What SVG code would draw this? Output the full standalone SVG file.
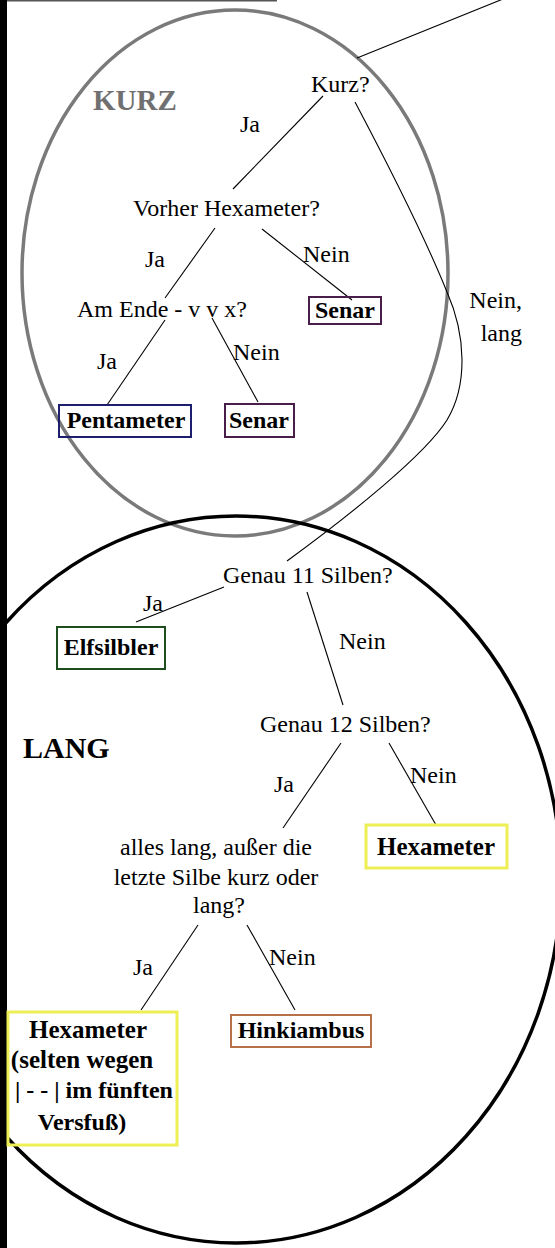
<svg xmlns="http://www.w3.org/2000/svg" width="555" height="1248" viewBox="0 0 555 1248">
<style>
.t{font-family:"Liberation Serif","Times New Roman",serif;font-size:24px;fill:#000}
.b{font-weight:bold}
.m{text-anchor:middle}
.e{text-anchor:end}
.edge{stroke:#000;stroke-width:1.1;fill:none}
.box{fill:none;stroke-width:2}
</style>
<rect x="0" y="0" width="555" height="1248" fill="#fff"/>
<g id="region-kurz">
<ellipse cx="235" cy="273" rx="213" ry="263" fill="none" stroke="#7a7a7a" stroke-width="3.5"/>
<text class="t b" x="93" y="110" style="fill:#707070;font-size:29px">KURZ</text>
</g>
<g id="region-lang">
<ellipse cx="236" cy="879.5" rx="325" ry="363.5" fill="none" stroke="#000" stroke-width="3.5"/>
<text class="t b" x="23" y="758" style="font-size:30px">LANG</text>
</g>
<rect x="0" y="0" width="7" height="1248" fill="#000"/>
<rect x="7" y="0" width="270" height="1.5" fill="#555"/>
<g id="connectors">
<path class="edge" d="M357,58 L503,-1"/>
<path class="edge" d="M323,96 L233,189"/>
<path class="edge" d="M355,102 Q420,225 447,292 C466,335 468,385 447,420 C425,455 350,515 287,561"/>
<path class="edge" d="M215,228 L165,298"/>
<path class="edge" d="M165,320 L107,405"/>
<path class="edge" d="M262,229 L352,300"/>
<path class="edge" d="M212,318 L258,402"/>
<path class="edge" d="M224,587 L136,622"/>
<path class="edge" d="M307,592 L343,705"/>
<path class="edge" d="M341,743 L283,828"/>
<path class="edge" d="M389,743 L436,825"/>
<path class="edge" d="M198,925 L141,1010"/>
<path class="edge" d="M247,925 L295,1010"/>
</g>
<g id="labels">
<text class="t" x="240" y="132">Ja</text>
<text class="t" x="145" y="267">Ja</text>
<text class="t" x="303" y="262">Nein</text>
<text class="t" x="233" y="360">Nein</text>
<text class="t" x="97" y="369">Ja</text>
<text class="t e" x="522" y="308">Nein,</text>
<text class="t e" x="522" y="341">lang</text>
<text class="t" x="143" y="611">Ja</text>
<text class="t" x="339" y="649">Nein</text>
<text class="t" x="274" y="792">Ja</text>
<text class="t" x="410" y="783">Nein</text>
<text class="t" x="133" y="975">Ja</text>
<text class="t" x="269" y="965">Nein</text>
</g>
<g id="q-kurz"><text class="t" x="311" y="92">Kurz?</text></g>
<g id="q-vorher"><text class="t" x="133" y="216">Vorher Hexameter?</text></g>
<g id="q-amende"><text class="t" x="77" y="317">Am Ende - v v x?</text></g>
<g id="r-senar1"><rect class="box" x="309" y="297" width="72" height="27" stroke="#4a1e4a"/><text class="t b m" x="345" y="318">Senar</text></g>
<g id="r-pentameter"><rect class="box" x="59" y="405" width="132" height="32" stroke="#1e1e6e"/><text class="t b m" x="126" y="428">Pentameter</text></g>
<g id="r-senar2"><rect class="box" x="225" y="404" width="69" height="33" stroke="#4a1e4a"/><text class="t b m" x="259" y="428">Senar</text></g>
<g id="q-genau11"><text class="t" x="223" y="583">Genau 11 Silben?</text></g>
<g id="r-elfsilbler"><rect class="box" x="57" y="627" width="108" height="42" stroke="#1e4e1e"/><text class="t b m" x="111" y="655">Elfsilbler</text></g>
<g id="q-genau12"><text class="t" x="260" y="732">Genau 12 Silben?</text></g>
<g id="r-hexameter1"><rect class="box" x="366" y="825" width="141" height="43" stroke="#eeee55" style="stroke-width:3"/><text class="t b m" x="436" y="855" style="font-size:25px">Hexameter</text></g>
<g id="q-alles"><text class="t m" x="216" y="855">alles lang, außer die</text><text class="t m" x="216" y="885">letzte Silbe kurz oder</text><text class="t m" x="219" y="913">lang?</text></g>
<g id="r-hexameter2"><rect class="box" x="8" y="1012" width="169" height="133" stroke="#eeee55" style="stroke-width:3"/>
<text class="t b m" x="88" y="1038" style="font-size:25px">Hexameter</text>
<text class="t b m" x="82" y="1068" style="font-size:25px">(selten wegen</text>
<text class="t b m" x="94" y="1098">| - - | im fünften</text>
<text class="t b m" x="82" y="1130">Versfuß)</text></g>
<g id="r-hinkiambus"><rect class="box" x="231" y="1015" width="140" height="32" stroke="#b87048"/><text class="t b m" x="301" y="1038">Hinkiambus</text></g>
</svg>
